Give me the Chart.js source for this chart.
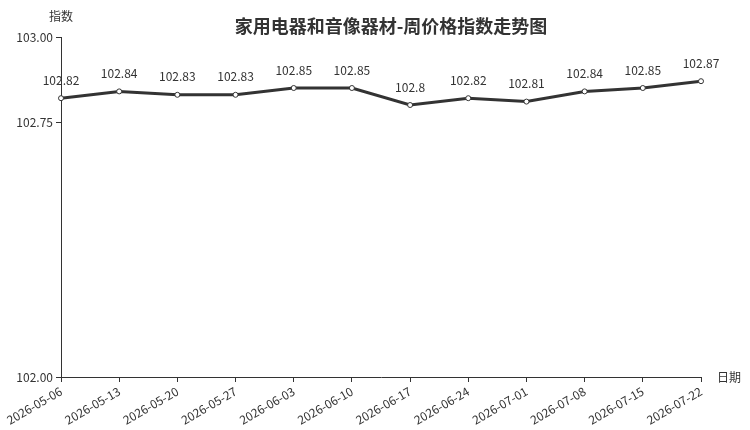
<!DOCTYPE html>
<html>
<head>
<meta charset="utf-8">
<script src="https://cdn.jsdelivr.net/npm/chart.js@4"></script>
<style>
    body { margin: 0; background: #fff; }
    #chart { display: block; }
</style>
</head>
<body>
<canvas id="chart" width="750" height="430"></canvas>
<script>
const dates = [
    "2026-05-06", "2026-05-13", "2026-05-20", "2026-05-27",
    "2026-06-03", "2026-06-10", "2026-06-17", "2026-06-24",
    "2026-07-01", "2026-07-08", "2026-07-15", "2026-07-22",
];
const indexValues = [
    102.82, 102.84, 102.83, 102.83, 102.85, 102.85,
    102.8, 102.82, 102.81, 102.84, 102.85, 102.87,
];
const yTicks = [102.0, 102.75, 103.0];

const FONT = "'Noto Sans CJK SC', 'Noto Sans', sans-serif";
const INK = "#333";

// title, axis names and the value labels above each point
const textPlugin = {
    id: "texts",
    afterDatasetsDraw(chart) {
        const ctx = chart.ctx;
        const area = chart.chartArea;
        ctx.save();
        ctx.fillStyle = INK;
        ctx.textAlign = "center";
        ctx.textBaseline = "middle";

        ctx.font = "bold 18px " + FONT;
        ctx.fillText("家用电器和音像器材-周价格指数走势图", 391, 26);

        ctx.font = "12px " + FONT;
        ctx.fillText("指数", area.left, 16);
        ctx.textAlign = "left";
        ctx.fillText("日期", area.right + 16, area.bottom);

        ctx.textAlign = "center";
        const meta = chart.getDatasetMeta(0);
        meta.data.forEach((pt, i) => {
            ctx.fillText(String(indexValues[i]), pt.x, pt.y - 18);
        });
        ctx.restore();
    },
};

new Chart(document.getElementById("chart"), {
    type: "line",
    data: {
        labels: dates,
        datasets: [
            {
                data: indexValues,
                borderColor: INK,
                borderWidth: 3,
                tension: 0,
                pointRadius: 2.5,
                pointBorderWidth: 1,
                pointBackgroundColor: "#fff",
                pointBorderColor: INK,
            },
        ],
    },
    options: {
        responsive: false,
        animation: false,
        layout: {
            padding: { top: 37, right: 49, left: 0, bottom: 0 },
        },
        scales: {
            x: {
                offset: false,
                grid: {
                    display: true,
                    drawOnChartArea: false,
                    drawTicks: true,
                    tickLength: 5,
                    color: INK,
                },
                border: { color: INK, width: 1 },
                ticks: {
                    color: INK,
                    font: { family: FONT, size: 12 },
                    minRotation: 30,
                    maxRotation: 30,
                    autoSkip: false,
                    padding: 2,
                },
                afterFit(scale) {
                    scale.height = 53;
                },
            },
            y: {
                min: 102,
                max: 103,
                afterBuildTicks(scale) {
                    scale.ticks = yTicks.map((v) => ({ value: v }));
                },
                grid: {
                    display: true,
                    drawOnChartArea: false,
                    drawTicks: true,
                    tickLength: 5,
                    color: INK,
                },
                border: { color: INK, width: 1 },
                ticks: {
                    color: INK,
                    font: { family: FONT, size: 12 },
                    padding: 3,
                    callback: (v) => Number(v).toFixed(2),
                },
                afterFit(scale) {
                    scale.width = 61;
                },
            },
        },
        plugins: {
            legend: { display: false },
            tooltip: { enabled: false },
        },
    },
    plugins: [textPlugin],
});
</script>
</body>
</html>
